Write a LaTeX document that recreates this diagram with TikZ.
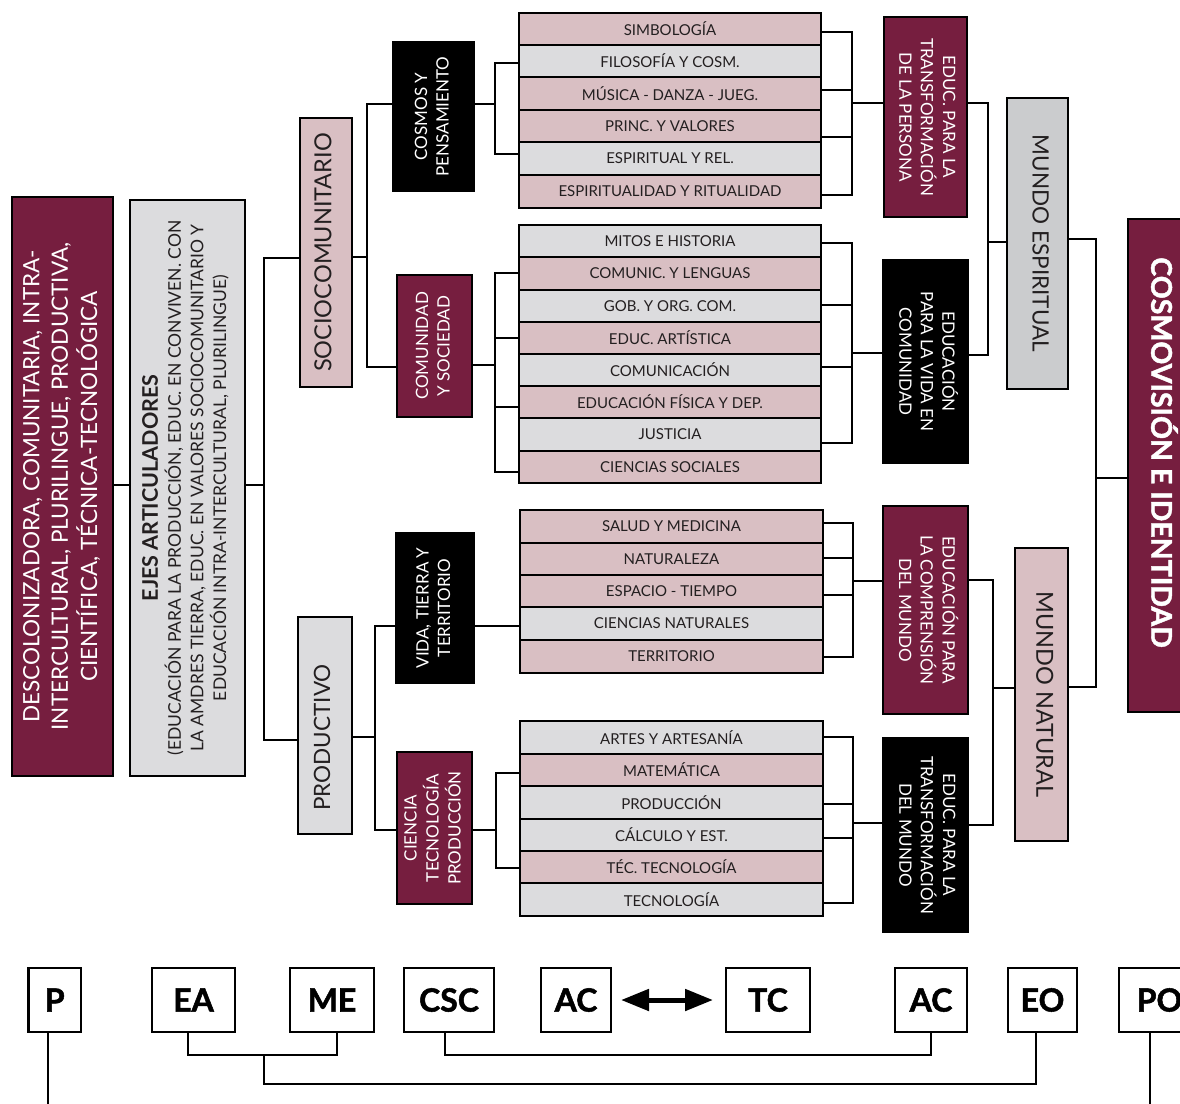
\documentclass[tikz,border=0pt]{standalone}
\usepackage{fontspec}
\setmainfont{Lato}
\newfontfamily\heavyfont[BoldFeatures={FakeBold=1.6}]{Lato}
\usetikzlibrary{arrows.meta}

\definecolor{wine}{HTML}{761E3F}
\definecolor{rose}{HTML}{D9BFC3}
\definecolor{fog}{HTML}{DCDCDE}
\definecolor{fogdark}{HTML}{CBCCCE}
\definecolor{ink}{HTML}{231F20}

% box from (x1,y1) to (x2,y2), y counted downwards
\newcommand\rbox[7]{\node[#1, minimum width={(#5-#3)*1pt}, minimum height={(#6-#4)*1pt}] (#2) at ({(#3+#5)/2},{(#4+#6)/2}) {#7};}
% rotated multi-line label: angle, size, line distance, lines
\newcommand\rtxt[4]{\rotatebox{#1}{\fontsize{#2pt}{#3pt}\selectfont\begin{tabular}{@{}c@{}}#4\end{tabular}}}

\tikzset{
  frame/.style={draw=black, line width=2.4pt, inner sep=0pt, outer sep=0pt, text=ink},
  wineb/.style={frame, fill=wine, text=white},
  blackb/.style={frame, fill=black, text=white},
  roseb/.style={frame, fill=rose},
  fogb/.style={frame, fill=fog},
  darkfogb/.style={frame, fill=fogdark},
  subj/.style={draw=black, line width=2pt, inner sep=0pt, outer sep=0pt, text=ink,
              font=\fontsize{15pt}{18pt}\selectfont},
  roserow/.style={subj, fill=rose},
  fogrow/.style={subj, fill=fog},
  link/.style={draw=black, line width=2pt, line join=miter},
  tag/.style={draw=black, line width=2.2pt, fill=white, inner sep=0pt, outer sep=0pt,
              font=\heavyfont\bfseries\fontsize{32pt}{32pt}\selectfont},
}

\begin{document}
\begin{tikzpicture}[x=1pt, y=-1pt]
\useasboundingbox (0,0) rectangle (1180,1103);
\fill[white] (0,0) rectangle (1180,1103);
\clip (0,0) rectangle (1180,1103);

% ---- left column
\rbox{wineb}{desc}{12}{197}{113}{776}{\rtxt{90}{22.5}{28.5}{DESCOLONIZADORA, COMUNITARIA, INTRA-\\INTERCULTURAL, PLURILINGUE, PRODUCTIVA,\\CIENTÍFICA, TÉCNICA-TECNOLÓGICA}}
\rbox{fogb}{ejes}{130}{200}{245}{776}{\rtxt{90}{17.5}{22.5}{{\bfseries\fontsize{21.5pt}{23pt}\selectfont EJES ARTICULADORES}\\(EDUCACIÓN PARA LA PRODUCCIÓN, EDUC. EN CONVIVEN. CON\\LA AMDRES TIERRA, EDUC. EN VALORES SOCIOCOMUNITARIO Y\\EDUCACIÓN INTRA-INTERCULTURAL, PLURILINGUE)}}

\rbox{roseb}{socio}{300}{118}{352}{387}{\rtxt{90}{23.5}{27}{SOCIOCOMUNITARIO}}
\rbox{fogb}{prod}{298}{617}{352}{834}{\rtxt{90}{22.5}{26}{PRODUCTIVO\hspace*{24pt}}}

\rbox{blackb}{cosmos}{393}{42}{474}{191}{\rtxt{90}{17}{21.5}{COSMOS Y\\PENSAMIENTO}}
\rbox{wineb}{comun}{397}{275}{472}{417}{\rtxt{90}{17}{21.5}{COMUNIDAD\\Y SOCIEDAD}}
\rbox{blackb}{vida}{396}{533}{474}{683}{\rtxt{90}{17}{21.5}{VIDA, TIERRA Y\\TERRITORIO}}
\rbox{wineb}{cien}{397}{752}{472}{904}{\rtxt{90}{17}{21}{CIENCIA\\TECNOLOGÍA\\PRODUCCIÓN}}

% ---- subject lists
\rbox{roserow}{t1}{519}{13}{821}{45}{SIMBOLOGÍA}
\rbox{fogrow}{t2}{519}{45}{821}{77}{FILOSOFÍA Y COSM.}
\rbox{roserow}{t3}{519}{77}{821}{110}{MÚSICA - DANZA - JUEG.}
\rbox{roserow}{t4}{519}{110}{821}{142}{PRINC. Y VALORES}
\rbox{fogrow}{t5}{519}{142}{821}{175}{ESPIRITUAL Y REL.}
\rbox{roserow}{t6}{519}{175}{821}{208}{ESPIRITUALIDAD Y RITUALIDAD}

\rbox{fogrow}{m1}{519}{225}{821}{257}{MITOS E HISTORIA}
\rbox{roserow}{m2}{519}{257}{821}{290}{COMUNIC. Y LENGUAS}
\rbox{fogrow}{m3}{519}{290}{821}{322}{GOB. Y ORG. COM.}
\rbox{roserow}{m4}{519}{322}{821}{354}{EDUC. ARTÍSTICA}
\rbox{fogrow}{m5}{519}{354}{821}{386}{COMUNICACIÓN}
\rbox{roserow}{m6}{519}{386}{821}{418}{EDUCACIÓN FÍSICA Y DEP.}
\rbox{fogrow}{m7}{519}{418}{821}{451}{JUSTICIA}
\rbox{roserow}{m8}{519}{451}{821}{483}{CIENCIAS SOCIALES}

\rbox{roserow}{v1}{520}{510}{823}{543}{SALUD Y MEDICINA}
\rbox{roserow}{v2}{520}{543}{823}{575}{NATURALEZA}
\rbox{roserow}{v3}{520}{575}{823}{607}{ESPACIO - TIEMPO}
\rbox{fogrow}{v4}{520}{607}{823}{640}{CIENCIAS NATURALES}
\rbox{roserow}{v5}{520}{640}{823}{673}{TERRITORIO}

\rbox{fogrow}{c1}{520}{721}{823}{754}{ARTES Y ARTESANÍA}
\rbox{roserow}{c2}{520}{754}{823}{786}{MATEMÁTICA}
\rbox{fogrow}{c3}{520}{786}{823}{819}{PRODUCCIÓN}
\rbox{fogrow}{c4}{520}{819}{823}{851}{CÁLCULO Y EST.}
\rbox{roserow}{c5}{520}{851}{823}{883}{TÉC. TECNOLOGÍA}
\rbox{fogrow}{c6}{520}{883}{823}{916}{TECNOLOGÍA}

% ---- right column
\rbox{wineb}{persona}{884}{17}{967}{217}{\rtxt{-90}{17}{21.5}{EDUC. PARA LA\\TRANSFORMACIÓN\\DE LA PERSONA}}
\rbox{blackb}{vidacom}{883}{260}{968}{463}{\rtxt{-90}{17}{21.5}{EDUCACIÓN\\PARA LA VIDA EN\\COMUNIDAD}}
\rbox{wineb}{compr}{883}{506}{968}{714}{\rtxt{-90}{17}{21.5}{EDUCACIÓN PARA\\LA COMPRENSIÓN\\DEL MUNDO}}
\rbox{blackb}{transf}{883}{738}{968}{932}{\rtxt{-90}{17}{21.5}{EDUC. PARA LA\\TRANSFORMACIÓN\\DEL MUNDO}}

\rbox{darkfogb}{espir}{1007}{98}{1068}{389}{\rtxt{-90}{22.5}{25}{MUNDO ESPIRITUAL}}
\rbox{roseb}{natur}{1015}{548}{1068}{841}{\rtxt{-90}{23.5}{26}{MUNDO NATURAL}}
\rbox{wineb}{cosmo}{1128}{219}{1192}{712}{\rtxt{-90}{28.5}{30}{\heavyfont\bfseries COSMOVISIÓN E IDENTIDAD\hspace*{26pt}}}

% ---- connectors, left half
\draw[link] (desc.east |- 0,485) -- (ejes.west |- 0,485);
\draw[link] (ejes.east |- 0,485) -- (264,485);
\draw[link] (socio.west |- 0,258) -| (264,740) -- (prod.west |- 0,740);

\draw[link] (socio.east |- 0,257) -- (367,257);
\draw[link] (cosmos.west |- 0,104) -| (367,367) -- (comun.west |- 0,367);
\draw[link] (cosmos.east |- 0,104) -- (495,104);
\draw[link] (t2.west |- 0,63) -| (495,154) -- (t5.west |- 0,154);
\draw[link] (comun.east |- 0,365) -- (495,365);
\draw[link] (m2.west |- 0,273) -| (495,472) -- (m8.west |- 0,472);
\draw[link] (m4.west |- 0,338) -- (495,338);
\draw[link] (m6.west |- 0,407) -- (495,407);

\draw[link] (prod.east |- 0,737) -- (375,737);
\draw[link] (vida.west |- 0,626) -| (375,830) -- (cien.west |- 0,830);
\draw[link] (vida.east |- 0,626) -- (v4.west |- 0,626);
\draw[link] (cien.east |- 0,830) -- (496,830);
\draw[link] (c2.west |- 0,773) -| (496,868) -- (c5.west |- 0,868);

% ---- connectors, right half
\draw[link] (t1.east |- 0,32) -| (852,195) -- (t6.east |- 0,195);
\draw[link] (t3.east |- 0,90) -- (852,90);
\draw[link] (t4.east |- 0,137) -- (852,137);
\draw[link] (852,103) -- (persona.west |- 0,103);

\draw[link] (m1.east |- 0,243) -| (852,443) -- (m7.east |- 0,443);
\draw[link] (m3.east |- 0,305) -- (852,305);
\draw[link] (m5.east |- 0,367) -- (852,367);
\draw[link] (852,353) -- (vidacom.west |- 0,353);

\draw[link] (v1.east |- 0,523) -| (853,657) -- (v5.east |- 0,657);
\draw[link] (v2.east |- 0,558) -- (853,558);
\draw[link] (v3.east |- 0,595) -- (853,595);
\draw[link] (853,581) -- (compr.west |- 0,581);

\draw[link] (c1.east |- 0,737) -| (853,903) -- (c6.east |- 0,903);
\draw[link] (c3.east |- 0,804) -- (853,804);
\draw[link] (c4.east |- 0,838) -- (853,838);
\draw[link] (853,823) -- (transf.west |- 0,823);

\draw[link] (persona.east |- 0,103) -| (988,355) -- (vidacom.east |- 0,355);
\draw[link] (988,242) -- (espir.west |- 0,242);
\draw[link] (compr.east |- 0,580) -| (993,825) -- (transf.east |- 0,825);
\draw[link] (993,688) -- (natur.west |- 0,688);
\draw[link] (espir.east |- 0,239) -| (1096,687) -- (natur.east |- 0,687);
\draw[link] (1096,478) -- (cosmo.west |- 0,478);

% ---- bottom strip of abbreviations
\rbox{tag}{p}{28.5}{968}{81}{1032}{P}
\rbox{tag}{ea}{152}{968}{235}{1032}{EA}
\rbox{tag}{me}{290}{968}{374}{1032}{ME}
\rbox{tag}{csc}{404}{968}{494}{1032}{CSC}
\rbox{tag}{aca}{541}{968}{611}{1032}{AC}
\rbox{tag}{tc}{726}{968}{810}{1032}{TC}
\rbox{tag}{acb}{895}{968}{967}{1032}{AC}
\rbox{tag}{eo}{1008}{968}{1077}{1032}{EO}
\rbox{tag}{po}{1119}{968}{1200}{1032}{PO}

\draw[line width=5pt, {Triangle[length=28pt,width=21pt]}-{Triangle[length=28pt,width=21pt]}]
  ([xshift=10pt]aca.east) -- ([xshift=-13pt]tc.west);

\draw[link] (ea.south -| 187.5,0) |- (337,1055) -- (me.south -| 337,0);
\draw[link] (264,1055) |- (1036,1084) -- (eo.south -| 1036,0);
\draw[link] (csc.south -| 445,0) |- (931,1055) -- (acb.south -| 931,0);
\draw[link] (p.south -| 48,0) -- (48,1110);
\draw[link] (po.south -| 1150,0) -- (1150,1110);
\end{tikzpicture}
\end{document}
